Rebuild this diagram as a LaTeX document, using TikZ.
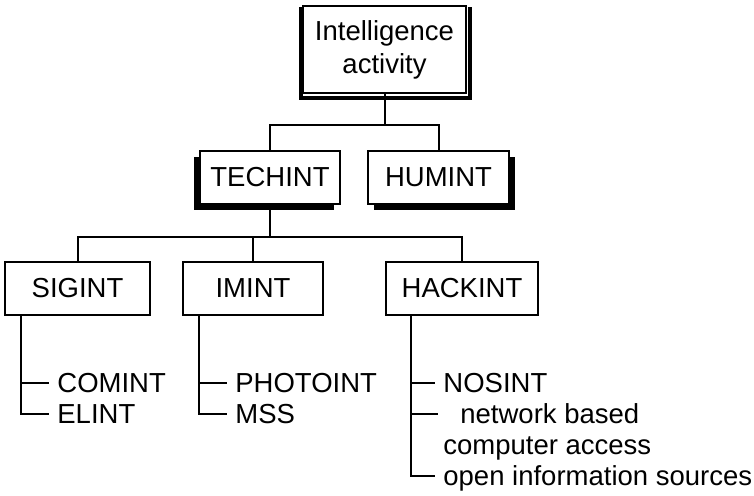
\documentclass[tikz,border=0pt]{standalone}
\usepackage{fontspec}
\setmainfont{Liberation Sans}
\usetikzlibrary{shadows}

\begin{document}
\begin{tikzpicture}[x=0.5pt, y=-0.5pt,
        every node/.style={font=\fontsize{13.75}{16.5}\selectfont},
        box/.style={draw, line width=1pt, fill=white, inner sep=0pt, minimum height=26.5pt},
        shadowleft/.style={general shadow={fill=black, shadow xshift=-3pt, shadow yshift=-3pt}},
        shadowright/.style={general shadow={fill=black, shadow xshift=3pt, shadow yshift=-3pt}},
        item/.style={anchor=west, inner sep=0pt, text height=9.8pt, text depth=0pt},
        link/.style={line width=1pt},
        tick/.style={line width=1pt, shorten >=4pt}]

        \useasboundingbox (0,0) rectangle (754,495);

        % Boxes
        \node[box, minimum width=81.5pt, minimum height=43.5pt, align=center] (top) at (384.5,49.5) {Intelligence\\activity};
        \draw[line width=2pt] ([xshift=-0.75pt,yshift=-1pt]top.north west)
              |- ([xshift=1.5pt,yshift=-2pt]top.south east)
              -- ([xshift=1.5pt,yshift=-1pt]top.north east);
        \node[box, shadowleft, minimum width=70pt] (techint) at (270,177) {TECHINT};
        \node[box, shadowright, minimum width=70.5pt] (humint) at (438.5,177) {HUMINT};
        \node[box, minimum width=72.5pt] (sigint) at (77.5,288.5) {SIGINT};
        \node[box, minimum width=70pt] (imint) at (253,288.5) {IMINT};
        \node[box, minimum width=76pt] (hackint) at (462,288.5) {HACKINT};

        % Tree connections
        \draw[link] (top.south) -- ++(0,31) coordinate (fork1);
        \draw[link] (techint.north) |- (fork1) -| (humint.north);
        \draw[link] (techint.south) -- ++(0,32) coordinate (fork2);
        \draw[link] (sigint.north) |- (fork2) -| (hackint.north);
        \draw[link] (imint.north) -- (imint.north |- fork2);

        % SIGINT list
        \coordinate (sigspine) at ([xshift=8.5pt]sigint.south west);
        \node[item] (comint) at (57,383) {COMINT};
        \node[item] (elint) at (57,414) {ELINT};
        \draw[tick] (sigspine |- comint.west) -- (comint.west);
        \draw[tick] (sigspine) |- (elint.west);

        % IMINT list
        \coordinate (imspine) at ([xshift=8.5pt]imint.south west);
        \node[item] (photoint) at (235,383) {PHOTOINT};
        \node[item] (mss) at (235,414) {MSS};
        \draw[tick] (imspine |- photoint.west) -- (photoint.west);
        \draw[tick] (imspine) |- (mss.west);

        % HACKINT list
        \coordinate (hackspine) at ([xshift=13pt]hackint.south west);
        \node[item] (nosint) at (443,383) {NOSINT};
        \node[item] (netbased) at (460,414) {network based};
        \node[item] (compaccess) at (443,445) {computer access};
        \node[item] (opensrc) at (443,476) {open information sources};
        \draw[tick] (hackspine |- nosint.west) -- (nosint.west);
        \draw[tick, shorten >=11pt] (hackspine |- netbased.west) -- (netbased.west);
        \draw[tick] (hackspine) |- (opensrc.west);

\end{tikzpicture}
\end{document}
